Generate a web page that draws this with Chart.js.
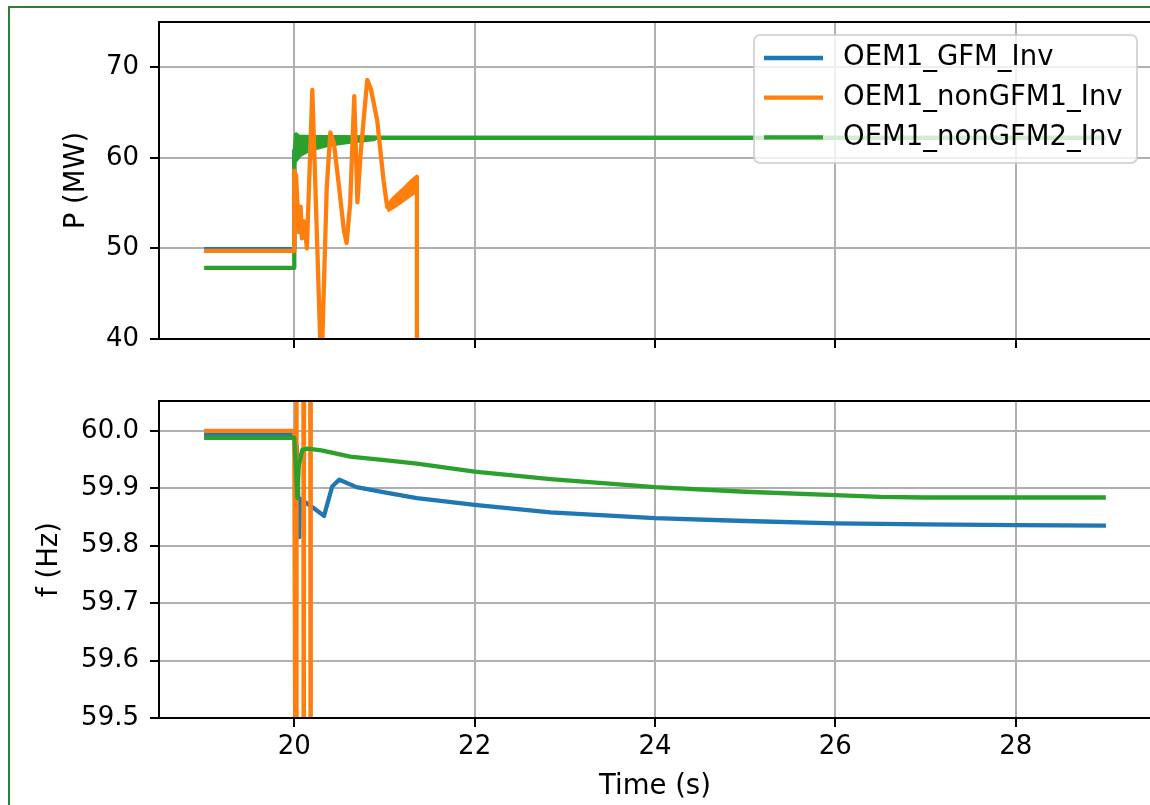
<!DOCTYPE html>
<html lang="en">
<head>
<meta charset="utf-8">
<title>Inverter response: active power and frequency</title>
<script src="https://cdn.jsdelivr.net/npm/chart.js@4.4.1/dist/chart.umd.min.js"></script>
<style>
  html, body { margin: 0; padding: 0; background: #fff; }
  #figure { position: relative; width: 1150px; height: 805px; overflow: hidden; background: #fff; }
  #border { position: absolute; left: 8px; top: 6px; width: 1300px; height: 1000px;
            border-left: 2px solid #2e7d3c; border-top: 2px solid #2e7d3c; }
  canvas { position: absolute; left: 0; }
  #powerCanvas { top: 0; }
  #freqCanvas { top: 380px; }
</style>
</head>
<body>
<div id="figure">
  <div id="border"></div>
  <canvas id="powerCanvas" width="1160" height="380"></canvas>
  <canvas id="freqCanvas" width="1160" height="425"></canvas>
</div>
<script>
// ---- series ----
const seriesNames  = ['OEM1_GFM_Inv', 'OEM1_nonGFM1_Inv', 'OEM1_nonGFM2_Inv'];
const seriesColors = ['#1f77b4', '#ff7f0e', '#2ca02c'];

// ---- tick labels ----
const timeTicks  = [20, 22, 24, 26, 28];
const powerTicks = [40, 50, 60, 70];
const freqTicks  = [59.5, 59.6, 59.7, 59.8, 59.9, 60.0];

// ---- active power P (MW) ----
const pGfmT = [19.0, 20.0, 20.0, 20.03, 20.1, 20.3, 20.6, 21.0, 29.0];
const pGfm  = [49.93, 49.93, 60.8, 61.5, 61.9, 62.1, 62.2, 62.2, 62.2];

const pNon1T = [19.0, 20.0, 20.0, 20.02, 20.05, 20.07, 20.085, 20.11, 20.14, 20.2, 20.3, 20.36,
                20.4, 20.44, 20.5, 20.55, 20.58, 20.62, 20.665, 20.7, 20.735, 20.79, 20.81, 20.85,
                20.92, 20.99, 21.03, 21.1, 21.2, 21.3, 21.36, 21.36, 29.0];
const pNon1  = [49.72, 49.72, 58.6, 58.0, 51.8, 54.6, 51.1, 53.0, 50.0, 67.5, 36.0, 56.7,
                62.8, 61.6, 56.5, 52.0, 50.6, 55.0, 66.8, 55.1, 60.4, 66.5, 68.6, 67.6,
                64.1, 57.5, 54.6, 55.5, 56.4, 57.4, 57.9, 0, 0];
// lower edge of the ripple band before the trip
const pNon1LowT = [21.03, 21.1, 21.2, 21.3, 21.355];
const pNon1Low  = [54.2, 54.6, 55.3, 56.0, 56.4];

const pNon2T = [19.0, 20.0, 20.0, 20.02, 20.05, 20.2, 20.5, 20.8, 21.0, 23.0, 25.0, 27.0, 29.0];
const pNon2  = [47.85, 47.85, 59.8, 62.6, 62.35, 62.3, 62.3, 62.25, 62.2, 62.2, 62.2, 62.2, 62.2];
// lower edge of the ripple band after the step
const pNon2LowT = [20.005, 20.03, 20.06, 20.17, 20.4, 20.62, 20.9];
const pNon2Low  = [59.6, 59.9, 60.3, 60.9, 61.5, 61.8, 62.1];

// ---- frequency f (Hz) ----
const fGfmT = [19.0, 20.0, 20.03, 20.055, 20.065, 20.1, 20.21, 20.33, 20.42, 20.5, 20.69,
               21.0, 21.36, 22.0, 22.84, 24.0, 25.0, 26.0, 27.0, 28.0, 29.0];
const fGfm  = [59.993, 59.993, 59.97, 59.815, 59.882, 59.878, 59.866, 59.852, 59.903, 59.915, 59.902,
               59.893, 59.883, 59.871, 59.858, 59.848, 59.843, 59.839, 59.837, 59.836, 59.835];

const fNon1T = [19.0, 20.0, 20.02, 20.025, 20.10, 20.105, 20.11, 20.175, 20.18, 20.185];
const fNon1  = [60.0, 60.0, 59.0, 60.6, 60.6, 59.0, 60.6, 60.6, 59.0, 60.6];

const fNon2T = [19.0, 20.0, 20.02, 20.035, 20.05, 20.09, 20.15, 20.3, 20.62, 21.0, 21.36,
                22.0, 22.84, 24.0, 25.0, 26.0, 26.5, 27.0, 28.0, 29.0];
const fNon2  = [59.988, 59.988, 59.93, 59.883, 59.94, 59.967, 59.969, 59.966, 59.955, 59.949, 59.943,
                59.929, 59.916, 59.902, 59.894, 59.888, 59.885, 59.884, 59.884, 59.884];

// ---- helpers ----
const FONT = '"DejaVu Sans", "Liberation Sans", sans-serif';
const tickFont  = {family: FONT, size: 26};
const labelFont = {family: FONT, size: 27.5};
const LINE_W = 4.3;
const grid = {color: '#b0b0b0', lineWidth: 2, drawTicks: true, tickLength: 9, tickColor: '#000', tickWidth: 2};

Chart.defaults.color = '#000';
Chart.defaults.font.family = FONT;

const pts = (t, v) => t.map((x, i) => ({x: x, y: v[i]}));
const useTicks = values => scale => { scale.ticks = values.map(v => ({value: v})); };
const fixSize = (prop, px) => scale => {
  scale[prop] = px;
  scale.paddingLeft = scale.paddingRight = scale.paddingTop = scale.paddingBottom = 0;
};

function lineSet(label, data, color, order, extra) {
  return Object.assign({
    label: label, data: data, borderColor: color, backgroundColor: color,
    borderWidth: LINE_W, pointRadius: 0, tension: 0, fill: false, order: order, clip: 0,
    borderJoinStyle: 'round', borderCapStyle: 'butt'
  }, extra || {});
}

// full box around the plotting area
const axesFrame = {
  id: 'axesFrame',
  afterDatasetsDraw(chart) {
    const {ctx, chartArea: a} = chart;
    ctx.save();
    ctx.strokeStyle = '#000';
    ctx.lineWidth = 2;
    ctx.strokeRect(a.left, a.top, a.right - a.left, a.bottom - a.top);
    ctx.restore();
  }
};

// framed legend inside the upper plot
const boxLegend = {
  id: 'boxLegend',
  afterDraw(chart, args, o) {
    const ctx = chart.ctx;
    const x = o.left, y = o.top, w = o.width, h = o.height, r = o.radius;
    ctx.save();
    ctx.beginPath();
    ctx.moveTo(x + r, y);
    ctx.arcTo(x + w, y, x + w, y + h, r);
    ctx.arcTo(x + w, y + h, x, y + h, r);
    ctx.arcTo(x, y + h, x, y, r);
    ctx.arcTo(x, y, x + w, y, r);
    ctx.closePath();
    ctx.fillStyle = 'rgba(255,255,255,0.8)';
    ctx.fill();
    ctx.lineWidth = 2;
    ctx.strokeStyle = 'rgba(204,204,204,0.8)';
    ctx.stroke();
    ctx.font = labelFont.size + 'px ' + FONT;
    ctx.textBaseline = 'middle';
    ctx.textAlign = 'left';
    seriesNames.forEach((name, i) => {
      const ry = o.firstRow + i * o.rowStep;
      ctx.beginPath();
      ctx.moveTo(o.handleStart, ry);
      ctx.lineTo(o.handleEnd, ry);
      ctx.strokeStyle = seriesColors[i];
      ctx.lineWidth = LINE_W;
      ctx.stroke();
      ctx.fillStyle = '#000';
      ctx.fillText(name, o.textX, ry);
    });
    ctx.restore();
  }
};

// ---- upper plot: active power ----
new Chart(document.getElementById('powerCanvas'), {
  type: 'line',
  data: {
    datasets: [
      lineSet(seriesNames[0], pts(pGfmT, pGfm), seriesColors[0], 4),
      lineSet(seriesNames[1], pts(pNon1T, pNon1), seriesColors[1], 0),
      lineSet(seriesNames[1] + ' ripple', pts(pNon1LowT, pNon1Low), seriesColors[1], 1, {fill: 1}),
      lineSet(seriesNames[2], pts(pNon2T, pNon2), seriesColors[2], 2),
      lineSet(seriesNames[2] + ' ripple', pts(pNon2LowT, pNon2Low), seriesColors[2], 3, {fill: 3})
    ]
  },
  options: {
    responsive: false, animation: false, events: [],
    layout: {padding: {left: 10, right: 9, top: 22, bottom: 0}},
    scales: {
      x: {
        type: 'linear', bounds: 'data', min: 18.5, max: 29.5,
        afterBuildTicks: useTicks(timeTicks), afterFit: fixSize('height', 41),
        ticks: {display: false}, grid: grid, border: {display: false}
      },
      y: {
        type: 'linear', bounds: 'data', min: 40, max: 75,
        afterBuildTicks: useTicks(powerTicks), afterFit: fixSize('width', 149),
        ticks: {font: tickFont, color: '#000', padding: 11, callback: v => String(v)},
        title: {display: true, text: 'P (MW)', font: labelFont, color: '#000', padding: {top: 50.5, bottom: 0}},
        grid: grid, border: {display: false}
      }
    },
    plugins: {
      legend: {display: false}, tooltip: {enabled: false},
      boxLegend: {left: 754, top: 35, width: 383, height: 128, radius: 6,
                  firstRow: 58, rowStep: 39.7, handleStart: 764, handleEnd: 823, textX: 843}
    }
  },
  plugins: [axesFrame, boxLegend]
});

// ---- lower plot: frequency ----
new Chart(document.getElementById('freqCanvas'), {
  type: 'line',
  data: {
    datasets: [
      lineSet(seriesNames[0], pts(fGfmT, fGfm), seriesColors[0], 2),
      lineSet(seriesNames[1], pts(fNon1T, fNon1), seriesColors[1], 1),
      lineSet(seriesNames[2], pts(fNon2T, fNon2), seriesColors[2], 0)
    ]
  },
  options: {
    responsive: false, animation: false, events: [],
    layout: {padding: {left: 10, right: 9, top: 21, bottom: 0}},
    scales: {
      x: {
        type: 'linear', bounds: 'data', min: 18.5, max: 29.5,
        afterBuildTicks: useTicks(timeTicks), afterFit: fixSize('height', 87),
        ticks: {font: tickFont, color: '#000', padding: 5, maxRotation: 0, autoSkip: false,
                callback: v => String(v)},
        title: {display: true, text: 'Time (s)', font: labelFont, color: '#000', padding: {top: 0, bottom: 2}},
        grid: grid, border: {display: false}
      },
      y: {
        type: 'linear', bounds: 'data', min: 59.5, max: 60.052,
        afterBuildTicks: useTicks(freqTicks), afterFit: fixSize('width', 149),
        ticks: {font: tickFont, color: '#000', padding: 11, callback: v => Number(v).toFixed(1)},
        title: {display: true, text: 'f (Hz)', font: labelFont, color: '#000', padding: {top: 23.5, bottom: 0}},
        grid: grid, border: {display: false}
      }
    },
    plugins: {legend: {display: false}, tooltip: {enabled: false}}
  },
  plugins: [axesFrame]
});
</script>
</body>
</html>
